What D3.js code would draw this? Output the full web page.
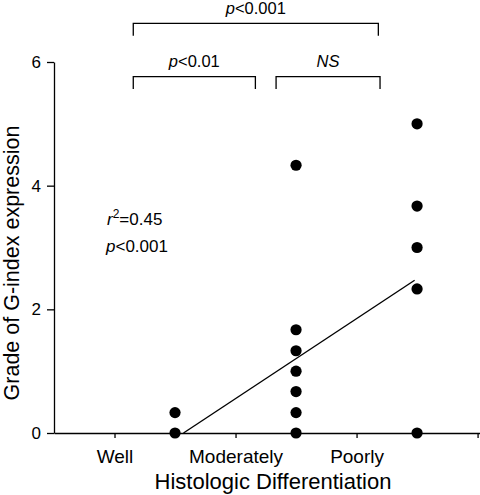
<!DOCTYPE html>
<html>
<head>
<meta charset="utf-8">
<script src="https://cdn.jsdelivr.net/npm/d3@7"></script>
<style>
  html, body { margin: 0; padding: 0; background: #fff; }
  svg { display: block; }
  text { font-family: "Liberation Sans", Arial, Helvetica, sans-serif; fill: #000; }
</style>
</head>
<body>
<svg id="chart" width="480" height="495"></svg>
<script>
// ---- data ----
const categories = ["Well", "Moderately", "Poorly"];
const categoryTickPos = [0.5, 1.5, 2.5, 3.5];
const groupX = [1, 2, 3];
const wellGroup = [0, 0.33];
const moderateGroup = [0, 0.33, 0.67, 1.0, 1.33, 1.67, 4.33];
const poorGroup = [0, 2.33, 3.0, 3.67, 5.0];
const yTicks = [0, 2, 4, 6];
const fitX = [1.07, 2.98];
const fitY = [0, 2.47];
const bracketLabels = ["p<0.001", "p<0.01", "NS"];
const bracketStart = [0.655, 0.655, 1.835];
const bracketEnd = [2.68, 1.664, 2.694];
const bracketLevel = [6.626, 5.763, 5.763];
const statLines = ["r2=0.45", "p<0.001"];

// ---- scales ----
const svg = d3.select("#chart");
const x = d3.scaleLinear().domain([0, 3.52]).range([54, 480]);
const y = d3.scaleLinear().domain([0, 6]).range([433, 62]);

// axes
const yAxis = svg.append("g")
  .attr("transform", `translate(${x(0)},0)`)
  .call(d3.axisLeft(y).tickValues(yTicks).tickFormat(d3.format("d"))
    .tickSize(7).tickPadding(6).tickSizeOuter(0));
yAxis.selectAll("text").style("font-size", "17px").attr("font-family", null);
yAxis.selectAll("line, path").attr("stroke", "#000").attr("stroke-width", 1.3);

const xAxis = svg.append("g")
  .attr("transform", `translate(0,${y(0)})`)
  .call(d3.axisBottom(x).tickValues(categoryTickPos)
    .tickFormat((d, i) => categories[i] || "")
    .tickSize(5).tickSizeOuter(0));
xAxis.selectAll("text").style("font-size", "19px").attr("font-family", null)
  .attr("y", 30).attr("dy", null);
xAxis.selectAll("line, path").attr("stroke", "#000").attr("stroke-width", 1.3);

// axis titles
svg.append("text")
  .attr("x", 273).attr("y", 489)
  .attr("text-anchor", "middle")
  .style("font-size", "22px")
  .text("Histologic Differentiation");
svg.append("text")
  .attr("transform", "translate(19,263) rotate(-90)")
  .attr("text-anchor", "middle")
  .style("font-size", "21.5px")
  .text("Grade of G-index expression");

// regression line
svg.append("line")
  .attr("x1", x(fitX[0])).attr("y1", y(fitY[0]))
  .attr("x2", x(fitX[1])).attr("y2", y(fitY[1]))
  .attr("stroke", "#000").attr("stroke-width", 1.4);

// points
const groups = [wellGroup, moderateGroup, poorGroup];
const pts = [];
groups.forEach((vals, gi) => vals.forEach(v => pts.push({ gx: groupX[gi], v })));
svg.append("g").selectAll("circle").data(pts).join("circle")
  .attr("cx", d => x(d.gx)).attr("cy", d => y(d.v))
  .attr("r", 5.6).attr("fill", "#000");

// brackets
const tick = 0.19; // data units of vertical bracket legs
bracketLabels.forEach((lab, i) => {
  const x1 = x(bracketStart[i]), x2 = x(bracketEnd[i]);
  const yl = y(bracketLevel[i]), yb = y(bracketLevel[i] - tick - 0.01);
  svg.append("path")
    .attr("d", `M${x1},${yb}V${yl}H${x2}V${yb}`)
    .attr("fill", "none").attr("stroke", "#000").attr("stroke-width", 1.3);
  const t = svg.append("text")
    .attr("x", (x1 + x2) / 2).attr("y", y(bracketLevel[i] + 0.15))
    .attr("text-anchor", "middle").style("font-size", "16.5px");
  if (lab.startsWith("p")) {
    t.append("tspan").style("font-style", "italic").text("p");
    t.append("tspan").text(lab.slice(1));
  } else {
    t.append("tspan").style("font-style", "italic").text(lab);
  }
});

// statistics text
const s1 = svg.append("text").attr("x", 107).attr("y", 225).style("font-size", "17px");
s1.append("tspan").style("font-style", "italic").text("r");
s1.append("tspan").attr("dy", -7).style("font-size", "12px").text(statLines[0].charAt(1));
s1.append("tspan").attr("dy", 7).text(statLines[0].slice(2));
const s2 = svg.append("text").attr("x", 106).attr("y", 252).style("font-size", "17px");
s2.append("tspan").style("font-style", "italic").text("p");
s2.append("tspan").text(statLines[1].slice(1));
</script>
</body>
</html>
